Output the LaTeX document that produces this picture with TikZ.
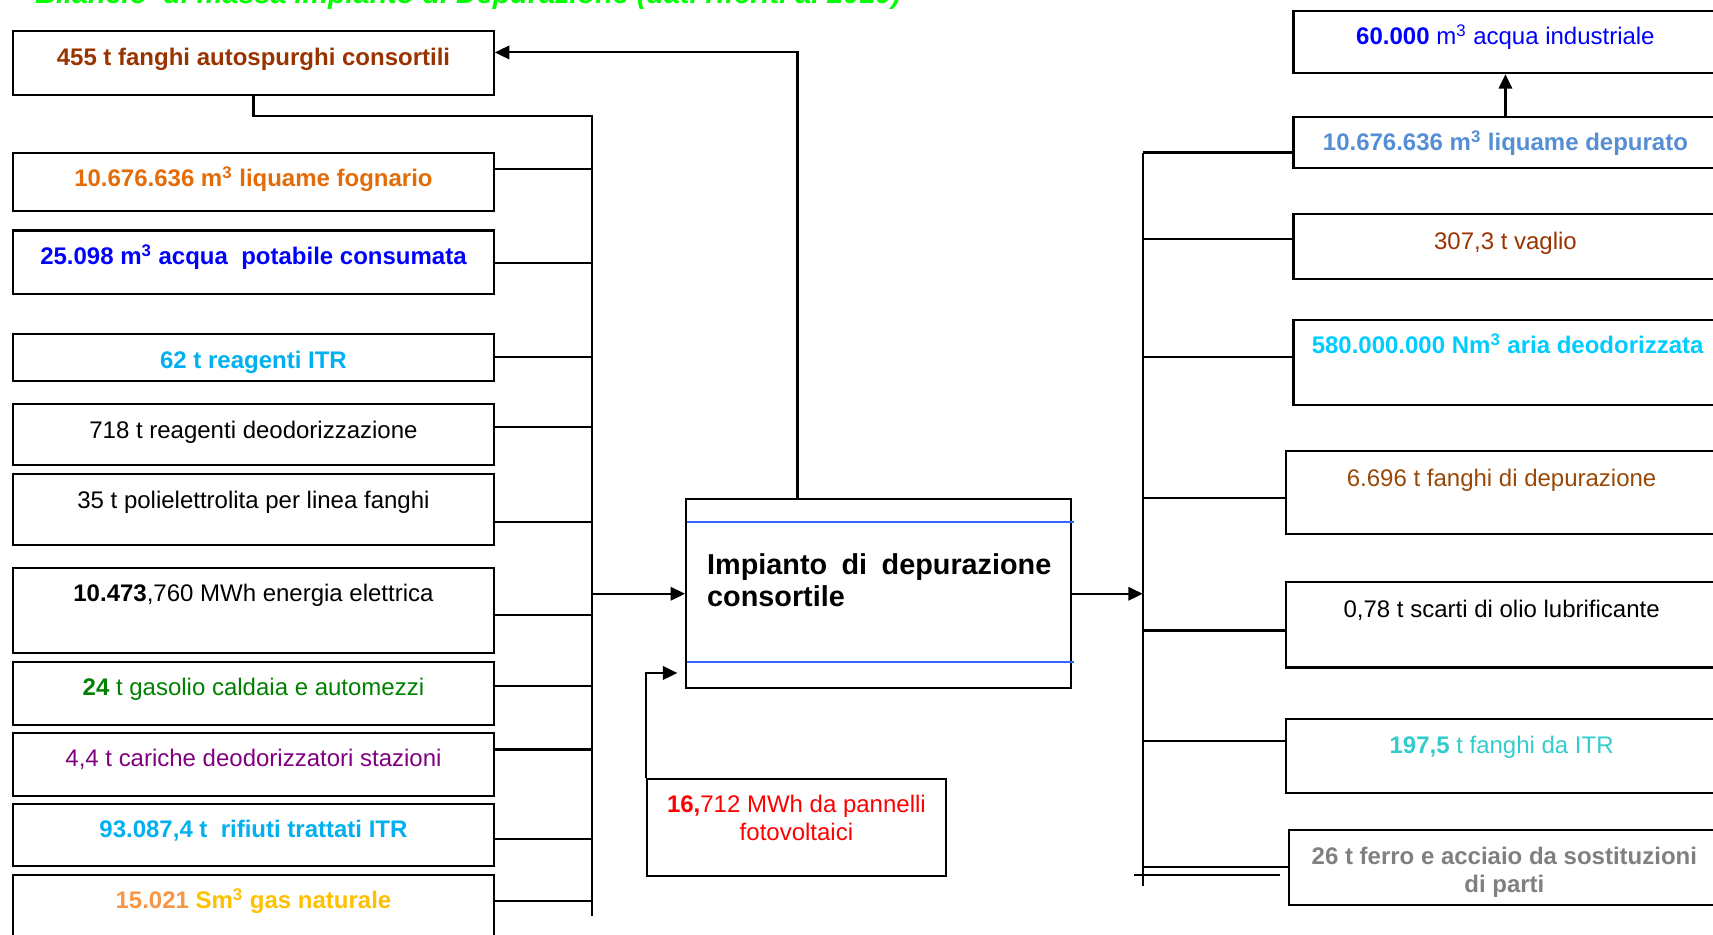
\documentclass[tikz,border=0pt]{standalone}
\usepackage{fontspec}
\setmainfont{Liberation Sans}
\usetikzlibrary{positioning, arrows.meta, fit}
\definecolor{tgreen}{HTML}{00FF00}
\definecolor{cbrown}{HTML}{993300}
\definecolor{corange}{HTML}{E36C09}
\definecolor{cblue}{HTML}{0000FF}
\definecolor{ccyan}{HTML}{00B0F0}
\definecolor{cgreen}{HTML}{008000}
\definecolor{cpurple}{HTML}{800080}
\definecolor{cpeach}{HTML}{F79646}
\definecolor{cgold}{HTML}{FFC000}
\definecolor{csteel}{HTML}{558ED5}
\definecolor{csky}{HTML}{00CCFF}
\definecolor{crust}{HTML}{984806}
\definecolor{cteal}{HTML}{33CCCC}
\definecolor{cgray}{HTML}{808080}
\definecolor{cred}{HTML}{FF0000}
\definecolor{cline}{HTML}{3366FF}
\newcommand{\mcubo}{m\textsuperscript{3}}

\begin{document}
\begin{tikzpicture}[x=0.02cm, y=-0.02cm,
    box/.style={draw, line width=1.1pt, inner sep=0pt},
    lbl/.style={anchor=base, align=center, inner sep=0pt, font=\fontsize{12.5}{14.4}\selectfont},
    wire/.style={line width=1.1pt},
    arr/.style={-{Triangle[length=7.5pt, width=7pt]}}]
  \useasboundingbox (0,0) rectangle (1568,855);
  \clip (0,0) rectangle (1568,855);
  % title, cut by the top edge
  \node[anchor=base west, inner sep=0pt, text=tgreen, font=\fontsize{15}{17}\selectfont\bfseries\itshape] (title) at (32,3.5) {Bilancio~ di massa impianto di Depurazione (dati riferiti al 2010)};

  % inputs
  \node[box, fit={(12,28) (452,87)}] (fangA) {};
  \node[lbl, text=cbrown] (fangA-t) at (232,60) {\bfseries 455 t fanghi autospurghi consortili};
  \node[box, fit={(12,140) (452,193)}] (liqF) {};
  \node[lbl, text=corange] (liqF-t) at (232,171) {\bfseries 10.676.636 \mcubo{} liquame fognario};
  \node[box, fit={(12,211) (452,269)}] (acqP) {};
  \node[lbl, text=cblue] (acqP-t) at (232,242) {\bfseries 25.098 \mcubo{} acqua~ potabile consumata};
  \node[box, fit={(12,306) (452,349)}] (reaI) {};
  \node[lbl, text=ccyan] (reaI-t) at (232,337) {\bfseries 62 t reagenti ITR};
  \node[box, fit={(12,370) (452,426)}] (reaD) {};
  \node[lbl] (reaD-t) at (232,401) {718 t reagenti deodorizzazione};
  \node[box, fit={(12,434) (452,499)}] (poli) {};
  \node[lbl] (poli-t) at (232,465) {35 t polielettrolita per linea fanghi};
  \node[box, fit={(12,520) (452,598)}] (enel) {};
  \node[lbl] (enel-t) at (232,551) {\textbf{10.473},760 MWh energia elettrica};
  \node[box, fit={(12,606) (452,664)}] (gaso) {};
  \node[lbl, text=cgreen] (gaso-t) at (232,637) {\textbf{24} t gasolio caldaia e automezzi};
  \node[box, fit={(12,671) (452,729)}] (cari) {};
  \node[lbl, text=cpurple] (cari-t) at (232,702) {4,4 t cariche deodorizzatori stazioni};
  \node[box, fit={(12,736) (452,793)}] (rifi) {};
  \node[lbl, text=ccyan] (rifi-t) at (232,767) {\bfseries 93.087,4 t~ rifiuti trattati ITR};
  \node[box, fit={(12,801) (452,880)}] (gasn) {};
  \node[lbl, text=cgold] (gasn-t) at (232,832) {\bfseries\textcolor{cpeach}{15.021} Sm\textsuperscript{3} gas naturale};

  % left collector
  \coordinate (busLtop) at (542,106);
  \coordinate (busLbot) at (542,838);
  \draw[wire] (fangA.south) |- (busLtop) -- (busLbot);
  \foreach \n/\y in {liqF/155, acqP/241, reaI/327, reaD/391, poli/478, enel/563, gaso/628, cari/686, rifi/768, gasn/825}{
    \coordinate (j-\n) at (542,\y);
    \draw[wire] (\n.east |- j-\n) -- (j-\n);
  }

  % plant
  \node[box, fit={(628,457) (980,630)}] (main) {};
  \draw[cline, line width=1pt] (629,478) -- (983,478);
  \draw[cline, line width=1pt] (629,606) -- (983,606);
  \node[anchor=north west, inner sep=0pt, text width=6.3cm, align=justify,
        font=\fontsize{15}{17}\selectfont\bfseries] (main-t) at (647,506) {Impianto di depurazione consortile};
  \draw[wire, arr] (busLbot |- main.west) -- (main.west);

  % back to the sludge box
  \coordinate (retA) at (730,48);
  \draw[wire, arr] (main.north -| retA) -- (retA) -- (fangA.east |- retA);

  % solar panels
  \node[box, fit={(592,713) (866,802)}] (pv) {};
  \node[lbl, anchor=north, text=cred] (pv-t) at (729,727.5) {\textbf{16,}712 MWh da pannelli\\fotovoltaici};
  \coordinate (pvin) at (620,616);
  \draw[wire, arr] (pv.north west) |- (pvin);

  % outputs
  \node[box, fit={(1184,10) (1572,67)}] (acqI) {};
  \node[lbl, text=cblue] (acqI-t) at (1378,41) {\textbf{60.000} \mcubo{} acqua industriale};
  \node[box, fit={(1184,107) (1572,154)}] (liqD) {};
  \node[lbl, text=csteel] (liqD-t) at (1378,138) {\bfseries 10.676.636 \mcubo{} liquame depurato};
  \node[box, fit={(1184,196) (1572,255)}] (vagl) {};
  \node[lbl, text=cbrown] (vagl-t) at (1378,228) {307,3 t vaglio};
  \node[box, fit={(1184,293) (1572,371)}] (aria) {};
  \node[lbl, text=csky] (aria-t) at (1380,324) {\bfseries 580.000.000 Nm\textsuperscript{3} aria deodorizzata};
  \node[box, fit={(1177,413) (1572,489)}] (fanD) {};
  \node[lbl, text=crust] (fanD-t) at (1374.5,445) {6.696 t fanghi di depurazione};
  \node[box, fit={(1177,533) (1572,611)}] (olio) {};
  \node[lbl] (olio-t) at (1374.5,565) {0,78 t scarti di olio lubrificante};
  \node[box, fit={(1177,658) (1572,726)}] (fITR) {};
  \node[lbl, text=cteal] (fITR-t) at (1374.5,690) {\textbf{197,5} t fanghi da ITR};
  \node[box, fit={(1180,760) (1572,828)}] (ferr) {};
  \node[lbl, anchor=north, text=cgray, font=\fontsize{12.5}{14.4}\selectfont\bfseries] (ferr-t) at (1377,775) {26 t ferro e acciaio da sostituzioni\\di parti};

  % right collector
  \coordinate (busRtop) at (1046,140);
  \coordinate (busRbot) at (1046,811);
  \draw[wire] (busRtop) -- (busRbot);
  \draw[wire, arr] (main.east) -- (main.east -| busRtop);
  \foreach \n/\y/\w in {liqD/140/1.6pt, vagl/219/1.1pt, aria/327/1.1pt, fanD/456/1.1pt, olio/577/1.6pt, fITR/678/1.1pt, ferr/794/1.1pt}{
    \coordinate (k-\n) at (1046,\y);
    \draw[line width=\w] (k-\n) -- (\n.west |- k-\n);
  }
  \coordinate (dupA) at (1038,801);
  \coordinate (dupB) at (1172,801);
  \draw[wire] (dupA) -- (dupB);
  \draw[wire, arr] (liqD.north) -- (acqI.south);
\end{tikzpicture}
\end{document}
